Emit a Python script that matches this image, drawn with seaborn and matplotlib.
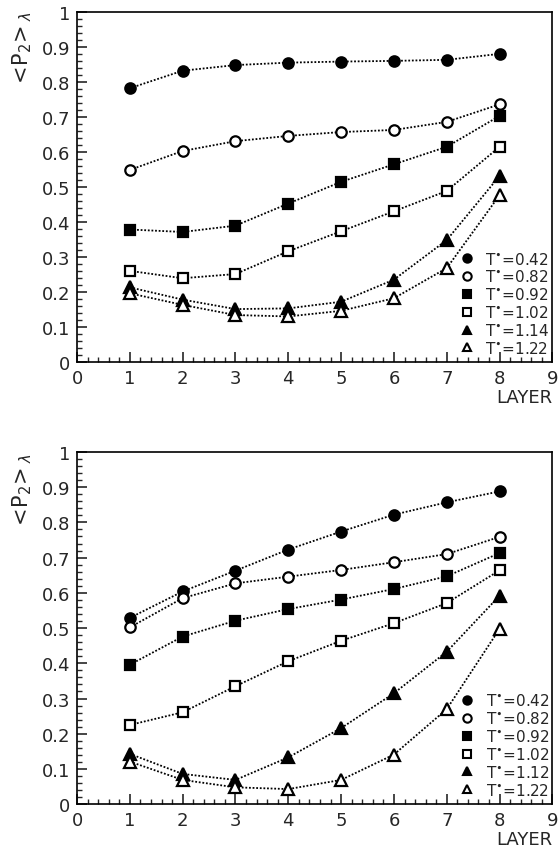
import matplotlib
matplotlib.use("Agg")
import matplotlib.pyplot as plt
from matplotlib.lines import Line2D
from matplotlib.ticker import MultipleLocator
import pandas as pd
import seaborn as sns

# =====================================================
# Data
# =====================================================

layers = [1, 2, 3, 4, 5, 6, 7, 8]

# upper panel
temps_top = ["0.42", "0.82", "0.92", "1.02", "1.14", "1.22"]
top_042 = [0.782, 0.832, 0.848, 0.855, 0.858, 0.860, 0.863, 0.880]
top_082 = [0.549, 0.603, 0.631, 0.646, 0.657, 0.663, 0.686, 0.736]
top_092 = [0.379, 0.372, 0.390, 0.453, 0.515, 0.565, 0.615, 0.703]
top_102 = [0.261, 0.240, 0.252, 0.317, 0.374, 0.431, 0.489, 0.615]
top_114 = [0.214, 0.179, 0.152, 0.154, 0.173, 0.236, 0.349, 0.532]
top_122 = [0.197, 0.164, 0.135, 0.131, 0.147, 0.183, 0.269, 0.477]

# lower panel
temps_bot = ["0.42", "0.82", "0.92", "1.02", "1.12", "1.22"]
bot_042 = [0.529, 0.604, 0.663, 0.723, 0.774, 0.822, 0.857, 0.888]
bot_082 = [0.502, 0.585, 0.627, 0.646, 0.665, 0.687, 0.710, 0.759]
bot_092 = [0.396, 0.476, 0.521, 0.554, 0.581, 0.611, 0.647, 0.713]
bot_102 = [0.225, 0.261, 0.335, 0.406, 0.464, 0.514, 0.571, 0.664]
bot_112 = [0.143, 0.086, 0.069, 0.133, 0.216, 0.315, 0.433, 0.592]
bot_122 = [0.121, 0.069, 0.048, 0.043, 0.069, 0.141, 0.270, 0.498]

top_series = [top_042, top_082, top_092, top_102, top_114, top_122]
bot_series = [bot_042, bot_082, bot_092, bot_102, bot_112, bot_122]

# marker shape / filled for each temperature slot
markers = ["o", "o", "s", "s", "^", "^"]
filled = [True, False, True, False, True, False]

# =====================================================
# Style
# =====================================================

sns.set_style("ticks")
plt.rcParams["font.family"] = ["DejaVu Sans"]
plt.rcParams["mathtext.fontset"] = "dejavusans"

fig = plt.figure(figsize=(5.58, 8.53), dpi=100)
ax_top = fig.add_axes([0.138, 0.574, 0.852, 0.411])
ax_bot = fig.add_axes([0.138, 0.056, 0.852, 0.413])


def draw_panel(ax, series, temps):
    for vals, t, m, f in zip(series, temps, markers, filled):
        df = pd.DataFrame({"layer": layers, "p2": vals})
        sns.lineplot(
            data=df, x="layer", y="p2", ax=ax,
            color="black", linestyle=(0, (1, 1)), linewidth=1.3,
            marker=m, markersize=7.5 if m != "^" else 8,
            markerfacecolor="black" if f else "white",
            markeredgecolor="black", markeredgewidth=1.6,
            legend=False,
        )

    handles = [
        Line2D([], [], linestyle="none", marker=m, color="black",
               markersize=6, markeredgewidth=1.5,
               markerfacecolor="black" if f else "white")
        for m, f in zip(markers, filled)
    ]
    labels = [r"T$^{\bullet}$=" + t for t in temps]
    ax.legend(handles, labels, loc="lower right", frameon=False,
              bbox_to_anchor=(1.0, 0.01), fontsize=11,
              handlelength=1.0, handletextpad=0.7, labelspacing=0.12,
              borderpad=0.2, borderaxespad=0.0)

    ax.set_xlim(0, 9)
    ax.set_ylim(0, 1)
    ax.xaxis.set_major_locator(MultipleLocator(1))
    ax.xaxis.set_minor_locator(MultipleLocator(0.2))
    ax.yaxis.set_minor_locator(MultipleLocator(0.02))
    ax.set_yticks([0, 0.1, 0.2, 0.3, 0.4, 0.5, 0.6, 0.7, 0.8, 0.9, 1.0])
    ax.set_yticklabels(["0", "0.1", "0.2", "0.3", "0.4", "0.5",
                        "0.6", "0.7", "0.8", "0.9", "1"])
    ax.tick_params(which="major", direction="in", length=7, width=1.2,
                   labelsize=13, top=False, right=False, pad=5)
    ax.tick_params(which="minor", direction="in", length=3.5, width=1.0,
                   top=False, right=False)
    for sp in ax.spines.values():
        sp.set_visible(True)
        sp.set_linewidth(1.2)
        sp.set_color("black")

    ax.set_xlabel("")
    ax.set_ylabel("")
    ax.text(1.0, -0.1, "LAYER", transform=ax.transAxes,
            ha="right", va="center", fontsize=13)


draw_panel(ax_top, top_series, temps_top)
draw_panel(ax_bot, bot_series, temps_bot)

ylab = r"$<\!\mathrm{P}_2\!>_{\lambda}$"
fig.text(0.04, 0.942, ylab, rotation=90, ha="center", va="center", fontsize=15)
fig.text(0.04, 0.424, ylab, rotation=90, ha="center", va="center", fontsize=15)

fig.savefig("out.png", dpi=100)
plt.close(fig)
